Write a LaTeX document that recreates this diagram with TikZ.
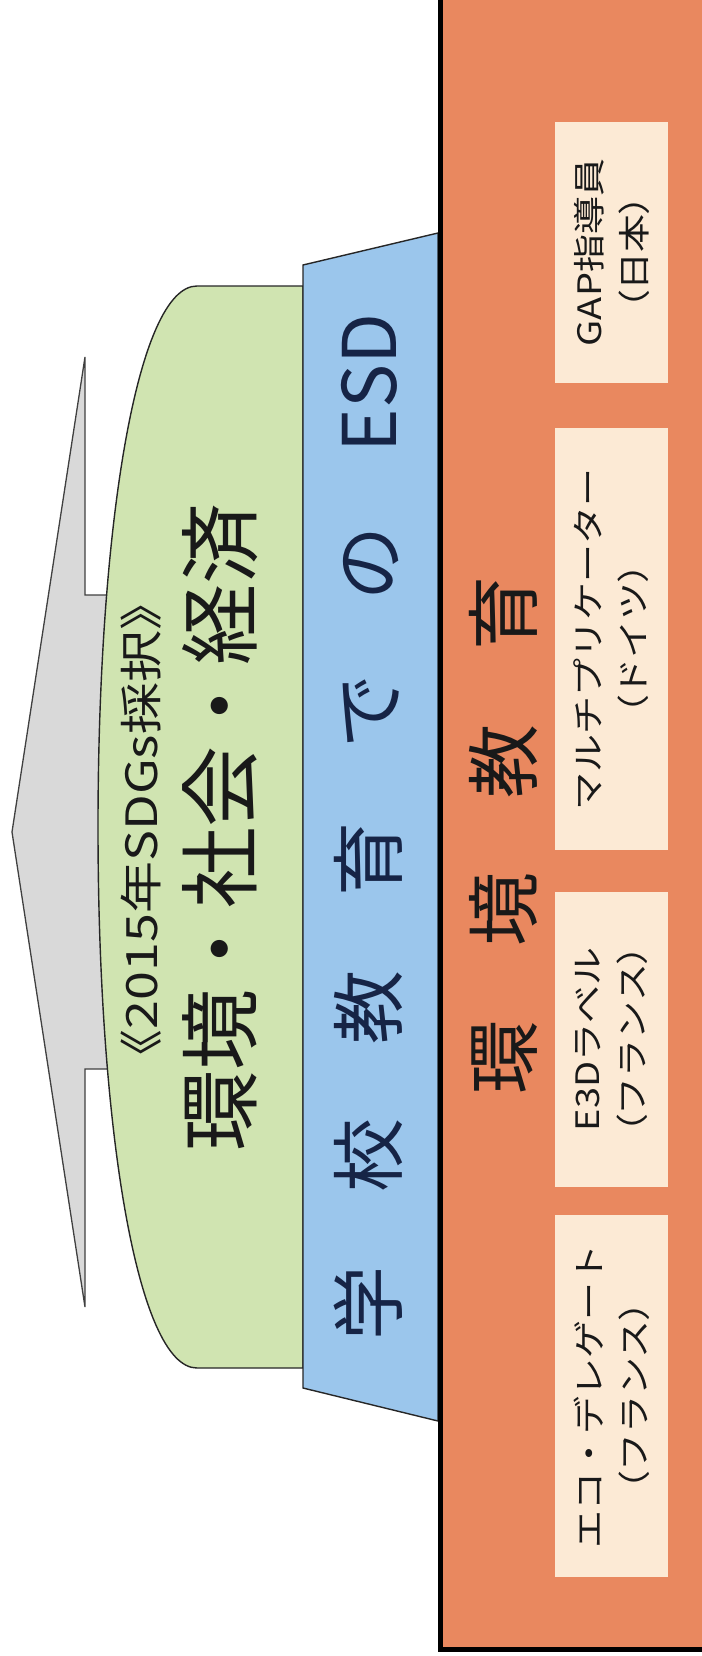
\documentclass[tikz,border=0pt]{standalone}
\usepackage{fontspec}
\usepackage{graphicx}
\setmainfont{Noto Sans CJK JP}
\newfontfamily\jpp[RawFeature=+palt]{Noto Sans CJK JP}
\definecolor{orangeC}{RGB}{233,136,95}
\definecolor{creamC}{RGB}{252,234,213}
\definecolor{greenC}{RGB}{208,228,177}
\definecolor{blueC}{RGB}{155,198,236}
\definecolor{grayC}{RGB}{217,217,217}
\definecolor{navyC}{RGB}{22,36,70}
\definecolor{inkC}{RGB}{25,25,25}
\newcommand{\sq}[2]{\scalebox{1}[#1]{#2}}
\tikzset{
  outl/.style={draw=black!85, line width=1.4pt, line join=miter},
  vtext/.style={rotate=90, inner sep=0pt, text=inkC},
  crbox/.style={rotate=90, fill=creamC, inner sep=0pt, minimum height=113pt,
    align=center, text=inkC, font=\fontsize{38}{45}\selectfont}
}
\begin{document}
\begin{tikzpicture}[x=1pt,y=-1pt]
\useasboundingbox (0,0) rectangle (701,1656);
% grey arrow pointing left
\draw[fill=grayC, draw=black!75, line width=1.3pt] (12,832) -- (85,357) -- (85,595) -- (260,595)
  -- (260,1069) -- (85,1069) -- (85,1307) -- cycle;
% green shape
\draw[outl, fill=greenC] (303,286) -- (197,286) .. controls (137,286) and (98,527) .. (98,827)
  .. controls (98,1127) and (137,1368) .. (197,1368) -- (303,1368) -- cycle;
% blue trapezoid
\draw[outl, fill=blueC] (303,265) -- (438,233) -- (438,1421) -- (303,1388) -- cycle;
% orange base
\draw[fill=orangeC, draw=black, line width=5pt] (440,-30) rectangle (730,1649);
% cream boxes
\node[crbox, minimum width=261pt] (gap) at (611.5,252.5)
  {\sq{0.85}{GAP指導員}\\\sq{0.85}{{\jpp （}日本{\jpp ）}}};
\node[crbox, minimum width=422pt] (multi) at (611.5,639)
  {\sq{0.85}{マルチプリケーター}\\\sq{0.85}{{\jpp （}ドイツ{\jpp ）}}};
\node[crbox, minimum width=295pt] (e3d) at (611.5,1039.5)
  {\sq{0.85}{E3Dラベル}\\\sq{0.85}{{\jpp （}フランス{\jpp ）}}};
\node[crbox, minimum width=362pt] (eco) at (611.5,1396)
  {\sq{0.85}{エコ・デレゲート}\\\sq{0.85}{{\jpp （}フランス{\jpp ）}}};
% texts
\node[vtext, font=\fontsize{52}{52}\selectfont] (sdg) at (141,830) {\sq{0.83}{《2015年SDGs採択》}};
\node[vtext, font=\fontsize{81}{81}\selectfont] (kse) at (220,827) {環境・社会・経済};
\node[vtext, text=navyC, font=\fontsize{74}{74}\selectfont] (esd) at (368,827) {学　校　教　育　で　の　ESD};
\node[vtext, font=\fontsize{74}{74}\selectfont] (kk) at (503,835) {環　境　教　育};
\end{tikzpicture}
\end{document}
